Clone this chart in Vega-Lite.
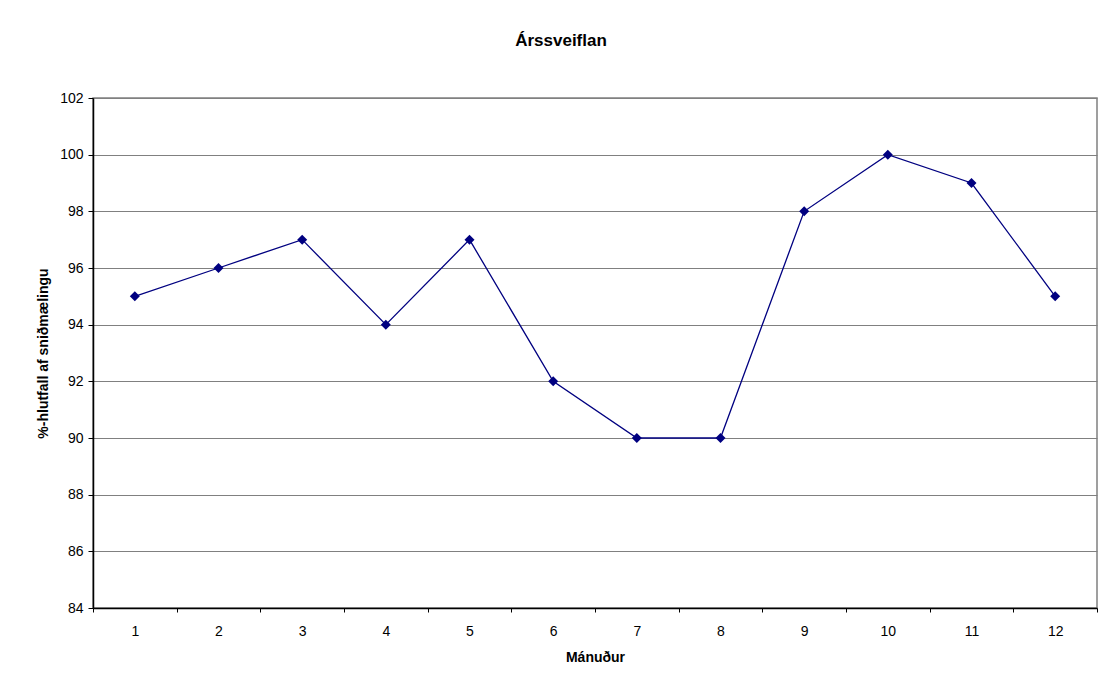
{
  "$schema": "https://vega.github.io/schema/vega-lite/v6.json",
  "width": 1004,
  "height": 510,
  "autosize": {"type": "none"},
  "padding": {"left": 93, "top": 98, "right": 12, "bottom": 79},
  "background": "white",
  "title": {
    "text": "Árssveiflan",
    "font": "Liberation Sans",
    "fontSize": 17,
    "fontWeight": "bold",
    "color": "black",
    "anchor": "middle",
    "dx": -34,
    "offset": 41
  },
  "data": {
    "values": [
      {"month": "1", "value": 95},
      {"month": "2", "value": 96},
      {"month": "3", "value": 97},
      {"month": "4", "value": 94},
      {"month": "5", "value": 97},
      {"month": "6", "value": 92},
      {"month": "7", "value": 90},
      {"month": "8", "value": 90},
      {"month": "9", "value": 98},
      {"month": "10", "value": 100},
      {"month": "11", "value": 99},
      {"month": "12", "value": 95}
    ]
  },
  "encoding": {
    "x": {
      "field": "month",
      "type": "ordinal",
      "sort": null,
      "scale": {"type": "band", "paddingInner": 0, "paddingOuter": 0},
      "axis": {
        "title": "Mánuður",
        "labelAngle": 0,
        "tickBand": "extent",
        "tickSize": 4,
        "labelPadding": 12,
        "titlePadding": 12,
        "grid": false
      }
    },
    "y": {
      "field": "value",
      "type": "quantitative",
      "scale": {"domain": [84, 102], "zero": false, "nice": false},
      "axis": {
        "title": "%-hlutfall af sniðmælingu",
        "values": [84, 86, 88, 90, 92, 94, 96, 98, 100, 102],
        "tickSize": 5,
        "labelPadding": 5,
        "titlePadding": 9,
        "grid": true
      }
    }
  },
  "layer": [
    {
      "mark": {"type": "line", "color": "#000080", "strokeWidth": 1.3}
    },
    {
      "mark": {"type": "point", "shape": "diamond", "filled": true, "color": "#000080", "size": 100, "opacity": 1}
    }
  ],
  "config": {
    "view": {"stroke": "#808080", "strokeWidth": 1.5},
    "axis": {
      "labelFont": "Liberation Sans",
      "labelFontSize": 14,
      "labelColor": "black",
      "titleFont": "Liberation Sans",
      "titleFontSize": 14,
      "titleFontWeight": "bold",
      "titleColor": "black",
      "domainColor": "black",
      "domainWidth": 1.5,
      "tickColor": "black",
      "tickWidth": 1,
      "gridColor": "#808080",
      "gridWidth": 1,
      "gridOpacity": 1
    }
  }
}
